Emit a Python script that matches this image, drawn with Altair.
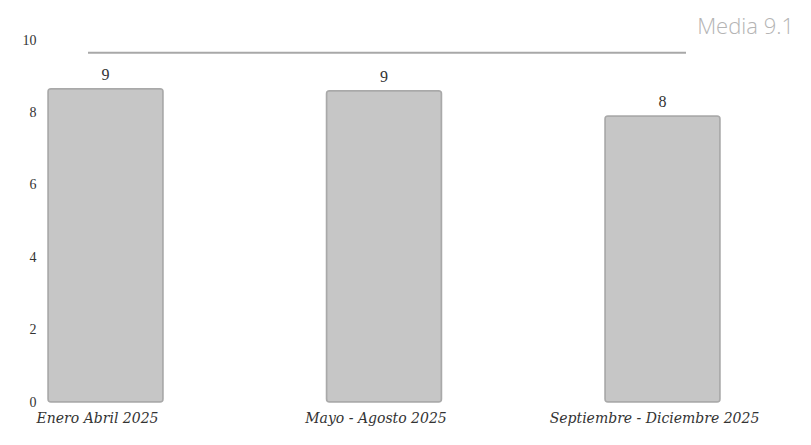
import altair as alt
import pandas as pd

periods = ["Enero Abril 2025", "Mayo - Agosto 2025", "Septiembre - Diciembre 2025"]
bar_heights = [8.65, 8.6, 7.9]
bar_labels = ["9", "9", "8"]
mean_level = 9.65
mean_text = "Media 9.1"
y_ticks = [0, 2, 4, 6, 8, 10]

df = pd.DataFrame({"period": periods, "value": bar_heights, "label": bar_labels})
mean_df = pd.DataFrame({"level": [mean_level], "text": [mean_text]})

x_enc = alt.X("period:N", sort=periods, title=None,
              scale=alt.Scale(paddingInner=0.587, paddingOuter=0),
              axis=alt.Axis(labelAngle=0, domain=False, ticks=False, labelPadding=9,
                            labelFont="DejaVu Serif", labelFontStyle="italic",
                            labelFontSize=14, labelColor="#333333", labelOffset=-8,
                            labelLimit=400, labelOverlap=False))
y_scale = alt.Scale(domain=[0, 10], nice=False)

bars = alt.Chart(df).mark_bar(color="#c6c6c6", stroke="#a9a9a9", strokeWidth=1.5,
                              cornerRadius=3).encode(
    x=x_enc,
    y=alt.Y("value:Q", scale=y_scale, title=None,
            axis=alt.Axis(values=y_ticks, grid=False, domain=False, ticks=False,
                          labelPadding=12, labelFont="Liberation Serif",
                          labelFontSize=14, labelColor="#333333")),
)

labels = alt.Chart(df).mark_text(dy=-14, font="Liberation Serif", fontSize=16,
                                 color="#333333").encode(
    x=alt.X("period:N", sort=periods),
    y=alt.Y("value:Q", scale=y_scale),
    text="label:N",
)

rule = alt.Chart(mean_df).mark_rule(color="#a8a8a8", strokeWidth=2).encode(
    y=alt.Y("level:Q", scale=y_scale),
    x=alt.value(40),
    x2=alt.value(638),
)

mean_label = alt.Chart(mean_df).mark_text(align="right", baseline="middle",
                                          font="Open Sans", fontSize=22, fontWeight=300,
                                          color="#b4b4b4").encode(
    x=alt.value(746),
    y=alt.value(-13),
    text="text:N",
)

chart = alt.layer(bars, labels, rule, mean_label).properties(
    width=672, height=362,
    background="white",
    autosize=alt.AutoSizeParams(type="none"),
    padding={"left": 40, "top": 32, "right": 83, "bottom": 27},
).configure_view(stroke=None)

chart.save("out.html", embed_options={"renderer": "svg", "actions": False})
